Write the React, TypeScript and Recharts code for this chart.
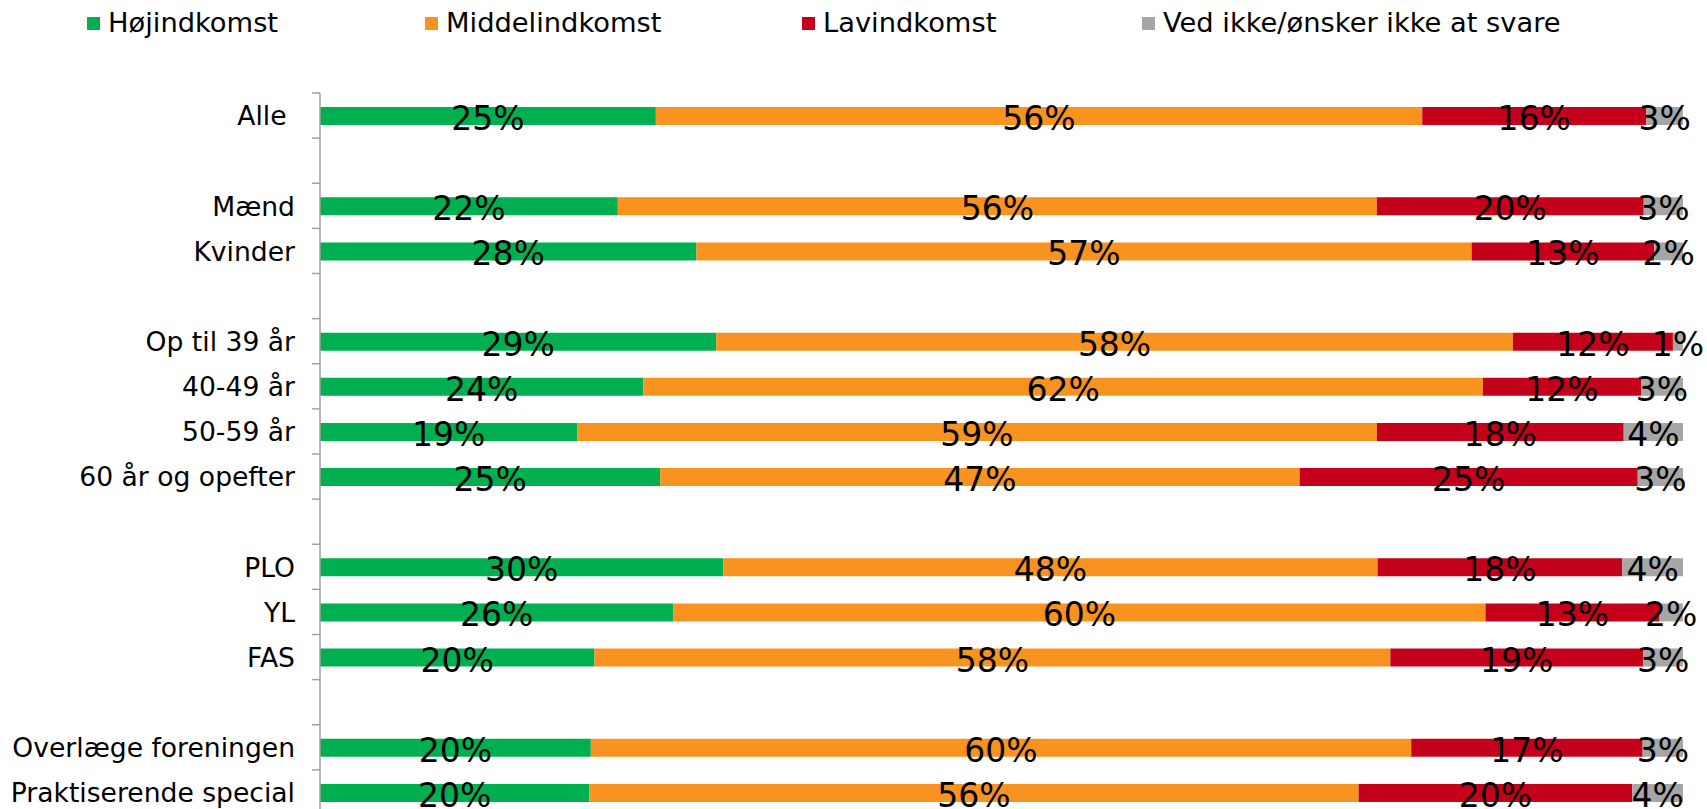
import React from 'react';
import { BarChart, Bar, XAxis, YAxis, Legend, LabelList } from 'recharts';

const categories = [
  'Alle ',
  '',
  'Mænd',
  'Kvinder',
  '',
  'Op til 39 år',
  '40-49 år',
  '50-59 år',
  '60 år og opefter',
  '',
  'PLO',
  'YL',
  'FAS',
  '',
  'Overlæge foreningen',
  'Praktiserende special',
];

const hoejindkomst = [24.64, null, 21.85, 27.62, null, 29.07, 23.73, 18.87, 24.96, null, 29.58, 25.93, 20.14, null, 19.87, 19.75];
const middelindkomst = [56.23, null, 55.69, 56.87, null, 58.45, 61.59, 58.67, 46.91, null, 48.01, 59.58, 58.39, null, 60.19, 56.45];
const lavindkomst = [16.44, null, 19.58, 13.4, null, 11.74, 11.6, 18.11, 24.81, null, 17.96, 12.77, 18.55, null, 16.98, 20.08];
const vedIkke = [2.69, null, 2.88, 2.11, null, 0.73, 3.08, 4.35, 3.32, null, 4.45, 1.71, 2.92, null, 2.96, 3.72];

const seriesNames = ['Højindkomst', 'Middelindkomst', 'Lavindkomst', 'Ved ikke/ønsker ikke at svare'];
const seriesKeys = ['hoej', 'middel', 'lav', 'ved'];
const seriesColors = ['#00B050', '#F7931E', '#C4001A', '#A6A6A6'];

const data = categories.map((name, i) => ({
  id: 'c' + i,
  name,
  hoej: hoejindkomst[i],
  middel: middelindkomst[i],
  lav: lavindkomst[i],
  ved: vedIkke[i],
}));

const FONT = '"DejaVu Sans", Verdana, sans-serif';
const CHART_W = 1707;
const LEGEND_H = 93;
const PLOT_H = 722;
const CHART_H = LEGEND_H + PLOT_H;
const BAND = PLOT_H / categories.length;
const AXIS_COLOR = '#A0A0A0';
const legendLeft = [87, 425, 802, 1142];

const renderLabel = (props: any) => {
  const vb = props.viewBox || props;
  const x = vb.x ?? props.x;
  const y = vb.y ?? props.y;
  const width = vb.width ?? props.width;
  const height = vb.height ?? props.height;
  const value = props.value;
  if (value == null || x == null) return null;
  return (
    <text
      x={x + width / 2}
      y={y + height / 2 + 14}
      textAnchor="middle"
      fontSize={33}
      fontFamily={FONT}
      fill="#000"
    >
      {Math.round(Number(value)) + '%'}
    </text>
  );
};

const renderTick = (props: any) => {
  const { x, y, index } = props;
  const label = categories[index] ?? '';
  return (
    <g>
      <line x1={x - 8} x2={x} y1={y - BAND / 2} y2={y - BAND / 2} stroke={AXIS_COLOR} strokeWidth={1.5} />
      {index === categories.length - 1 && (
        <line x1={x - 8} x2={x} y1={y + BAND / 2} y2={y + BAND / 2} stroke={AXIS_COLOR} strokeWidth={1.5} />
      )}
      <text
        x={x - 25}
        y={y + 9.7}
        textAnchor="end"
        fontSize={26.6}
        fontFamily={FONT}
        fill="#000"
        style={{ whiteSpace: 'pre' }}
      >
        {label}
      </text>
    </g>
  );
};

const LegendContent = () => (
  <div style={{ position: 'relative', width: CHART_W, height: LEGEND_H, fontFamily: FONT, fontSize: 27.3, color: '#000' }}>
    {seriesNames.map((n, i) => (
      <div
        key={n}
        style={{
          position: 'absolute',
          left: legendLeft[i],
          top: 8,
          display: 'flex',
          alignItems: 'center',
          whiteSpace: 'nowrap',
          lineHeight: '30px',
          height: 30,
        }}
      >
        <span style={{ display: 'inline-block', width: 13, height: 13, background: seriesColors[i], marginRight: 8 }} />
        <span>{n}</span>
      </div>
    ))}
  </div>
);

export default function App() {
  return (
    <div style={{ position: 'fixed', left: 0, top: 0, width: 1707, height: 809, overflow: 'hidden', background: '#fff' }}>
      <BarChart
        width={CHART_W}
        height={CHART_H}
        data={data}
        layout="vertical"
        margin={{ top: 0, right: 24, bottom: 0, left: 0 }}
        barSize={18}
      >
        <Legend
          verticalAlign="top"
          align="left"
          content={<LegendContent />}
          wrapperStyle={{ top: 0, left: 0, width: CHART_W, height: LEGEND_H }}
        />
        <XAxis type="number" domain={[0, 100]} allowDataOverflow hide />
        <YAxis
          type="category"
          dataKey="id"
          width={320}
          interval={0}
          tickSize={0}
          tickMargin={0}
          tickLine={false}
          axisLine={{ stroke: AXIS_COLOR, strokeWidth: 1.5 }}
          tick={renderTick}
        />
        {seriesKeys.map((k, i) => (
          <Bar key={k} dataKey={k} name={seriesNames[i]} stackId="s" fill={seriesColors[i]} isAnimationActive={false}>
            <LabelList dataKey={k} content={renderLabel} />
          </Bar>
        ))}
      </BarChart>
    </div>
  );
}
